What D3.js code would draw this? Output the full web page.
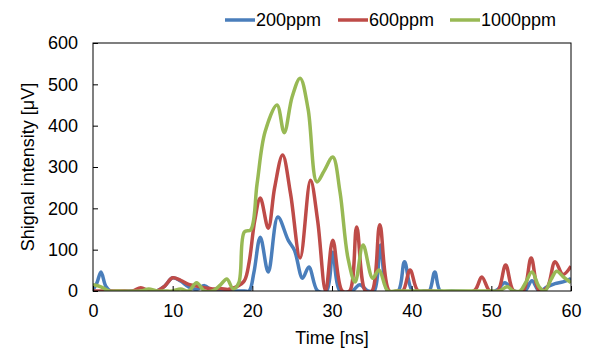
<!DOCTYPE html>
<html>
<head>
<meta charset="utf-8">
<script src="https://cdn.jsdelivr.net/npm/d3@7"></script>
<style>
  body { margin: 0; background: #fff; }
  text { font-family: "Liberation Sans", Arial, sans-serif; fill: #000; }
</style>
</head>
<body>
<div id="chart"></div>
<script>
var width = 589,
    height = 349;

var margin = {top: 43, right: 18, bottom: 58, left: 93};

// values (time in ns, signal in uV)
var seriesNames = ["200ppm", "600ppm", "1000ppm"];
var seriesColors = ["#4a7ebb", "#be4b48", "#98b954"];

var t200 = [0, 0.5, 1, 1.6, 2.2, 5, 8, 9, 10, 11, 12, 13, 14, 15, 17, 19, 19.6, 20.2, 21, 22, 23.2, 24.5, 25.3, 26.3, 27.1, 28.2, 29.3, 30.1, 31, 32.5, 33.5, 34.5, 35.3, 36.1, 37, 38.3, 39.1, 40.1, 41.5, 42.2, 42.9, 43.6, 45, 50.5, 51.7, 52.8, 54.2, 55.1, 56, 57, 58, 59, 60];
var v200 = [3, 20, 46, 12, 0, 0, 0, 12, 32, 24, 10, 4, 13, 0, 0, 0, 0, 45, 130, 46, 179, 123, 98, 31, 58, 0, 0, 94, 0, 0, 15, 0, 0, 111, 0, 0, 71, 0, 0, 0, 46, 0, 0, 0, 20, 0, 0, 25, 0, 10, 18, 22, 30];

var t600 = [0, 4, 5, 6, 7, 8, 9, 10, 11, 12, 13, 14, 15, 16, 17, 18, 19, 19.6, 20.3, 21, 22, 22.8, 23.8, 24.8, 26, 27.3, 28.2, 29.2, 30.1, 31.3, 32.2, 33.1, 34.2, 35, 36, 37.2, 38.2, 38.9, 39.8, 40.8, 42, 47.8, 48.8, 49.8, 50.8, 51.8, 52.8, 54, 55, 56, 57, 58, 59, 60];
var v600 = [0, 0, 0, 8, 0, 0, 12, 32, 26, 16, 12, 8, 5, 6, 4, 10, 25, 70, 170, 225, 152, 250, 329, 235, 80, 268, 170, 0, 123, 0, 0, 155, 0, 0, 160, 0, 0, 0, 51, 0, 0, 0, 34, 0, 0, 63, 0, 0, 80, 0, 8, 71, 40, 60];

var t1000 = [0, 1, 2, 3, 6, 7, 8, 9, 10, 11, 12, 13, 14, 15, 16, 16.8, 17.6, 18.3, 19, 19.8, 20.6, 21.6, 23.1, 24, 25, 26, 27, 28.1, 29, 30.1, 31, 32, 32.9, 33.9, 35.1, 35.9, 37, 38, 50, 51, 52, 52.8, 53.6, 54.3, 55.1, 56, 56.7, 57.5, 58.2, 59, 60];
var v1000 = [15, 10, 0, 0, 0, 5, 0, 0, 0, 5, 0, 20, 0, 0, 15, 29, 5, 20, 143, 148, 260, 385, 450, 383, 470, 515, 440, 264, 290, 324, 240, 80, 22, 111, 31, 51, 0, 0, 0, 0, 10, 0, 0, 20, 46, 10, 0, 28, 48, 35, 20];

var xTicks = [0, 10, 20, 30, 40, 50, 60];
var yTicks = [0, 100, 200, 300, 400, 500, 600];

var series = [
  {name: seriesNames[0], color: seriesColors[0], values: d3.zip(t200, v200)},
  {name: seriesNames[1], color: seriesColors[1], values: d3.zip(t600, v600)},
  {name: seriesNames[2], color: seriesColors[2], values: d3.zip(t1000, v1000)}
];

var svg = d3.select("#chart").append("svg")
    .attr("width", width)
    .attr("height", height);

var x = d3.scaleLinear()
    .domain([0, 60])
    .range([margin.left, width - margin.right]);

var y = d3.scaleLinear()
    .domain([0, 600])
    .range([height - margin.bottom, margin.top]);

svg.append("clipPath")
    .attr("id", "plotclip")
  .append("rect")
    .attr("x", x(0))
    .attr("y", y(600))
    .attr("width", x(60) - x(0))
    .attr("height", y(0) - y(600));

var line = d3.line()
    .x(function(d) { return x(d[0]); })
    .y(function(d) { return y(d[1]); })
    .curve(d3.curveCatmullRom.alpha(0.5));

svg.append("g")
    .attr("clip-path", "url(#plotclip)")
  .selectAll("path")
    .data(series)
  .enter().append("path")
    .attr("d", function(d) { return line(d.values); })
    .attr("fill", "none")
    .attr("stroke", function(d) { return d.color; })
    .attr("stroke-width", 3.5)
    .attr("stroke-linejoin", "round");

// frame
svg.append("rect")
    .attr("x", x(0))
    .attr("y", y(600))
    .attr("width", x(60) - x(0))
    .attr("height", y(0) - y(600))
    .attr("fill", "none")
    .attr("stroke", "#000")
    .attr("stroke-width", 1);

// inside ticks
var xAxis = svg.append("g")
    .attr("transform", "translate(0," + y(0) + ")")
    .call(d3.axisBottom(x).tickValues(xTicks).tickSizeInner(-5).tickSizeOuter(0).tickPadding(13));

var yAxis = svg.append("g")
    .attr("transform", "translate(" + x(0) + ",0)")
    .call(d3.axisLeft(y).tickValues(yTicks).tickSizeInner(-5).tickSizeOuter(0).tickPadding(15));

[xAxis, yAxis].forEach(function(a) {
  a.select(".domain").remove();
  a.selectAll("line").attr("stroke", "#000");
  a.selectAll("text")
    .style("font-size", "18px")
    .style("font-family", "'Liberation Sans', Arial, sans-serif")
    .attr("fill", "#000");
});

svg.append("text")
    .attr("x", (x(0) + x(60)) / 2)
    .attr("y", 344)
    .attr("text-anchor", "middle")
    .style("font-size", "18px")
    .text("Time [ns]");

svg.append("text")
    .attr("transform", "translate(34," + (y(300)) + ")rotate(-90)")
    .attr("text-anchor", "middle")
    .style("font-size", "18px")
    .text("Shignal intensity [μV]");

// legend
var legendX = [225, 338, 450];
var legend = svg.selectAll("g.key")
    .data(series)
  .enter().append("g")
    .attr("class", "key")
    .attr("transform", function(d, i) { return "translate(" + legendX[i] + ",20)"; });

legend.append("line")
    .attr("x1", 0)
    .attr("x2", 30)
    .attr("stroke", function(d) { return d.color; })
    .attr("stroke-width", 3.5);

legend.append("text")
    .attr("x", 31)
    .attr("y", 6)
    .style("font-size", "18px")
    .text(function(d) { return d.name; });
</script>
</body>
</html>
